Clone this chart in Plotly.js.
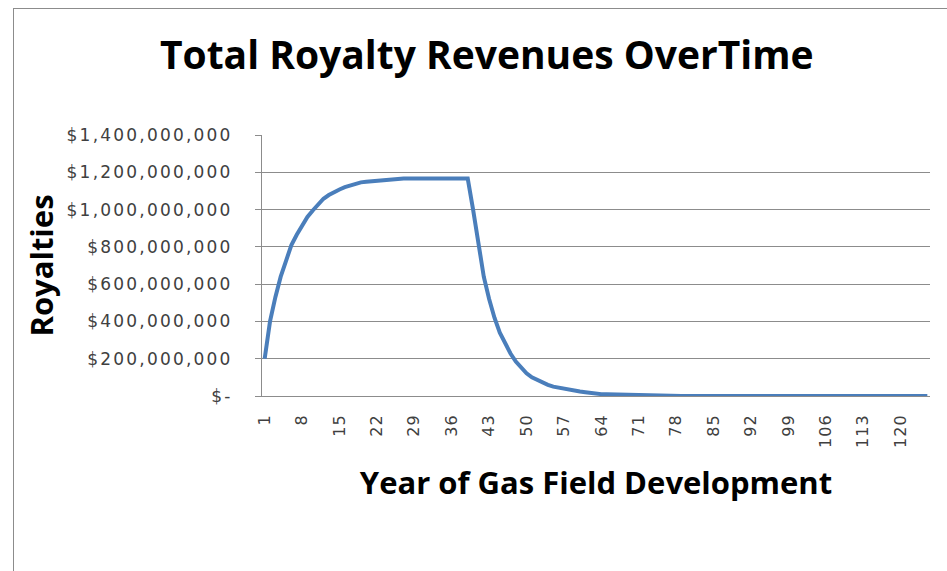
<!DOCTYPE html>
<html>
<head>
<meta charset="utf-8">
<script src="https://cdn.plot.ly/plotly-3.0.1.min.js"></script>
<style>
html,body{margin:0;padding:0;background:#fff;}
#chart{position:absolute;left:0;top:0;width:947px;height:571px;}
#frame{position:absolute;left:13px;top:8px;width:940px;height:570px;border-left:1px solid #8c8c8c;border-top:1px solid #8c8c8c;pointer-events:none;}
#chart .ytick text{letter-spacing:2.2px;}
#chart .xtick text{letter-spacing:1px;}
</style>
</head>
<body>
<div id="chart"></div>
<div id="frame"></div>
<script>
const years = [];
for (let i = 1; i <= 125; i++) years.push(i);

const royalties = [
  200e6, 400e6, 530e6, 640e6, 725e6, 810e6, 865e6, 915e6, 960e6, 995e6,
  1030e6, 1058e6, 1078e6, 1095e6, 1108e6, 1120e6, 1130e6, 1140e6, 1146e6, 1149e6,
  1152e6, 1155e6, 1157e6, 1160e6, 1163e6,
  1166e6, 1166e6, 1166e6, 1166e6, 1166e6, 1166e6, 1166e6, 1166e6, 1166e6, 1166e6,
  1166e6, 1166e6, 1166e6, 1166e6,
  1000e6, 820e6, 640e6, 520e6, 420e6, 340e6, 280e6, 228e6, 185e6, 150e6,
  122e6, 100e6, 85e6, 72e6, 60e6, 50e6, 44e6, 38e6, 33e6, 28e6,
  24e6, 20e6, 15e6, 12e6, 10e6, 9e6, 8e6, 7e6, 7e6, 6e6,
  6e6, 5e6, 5e6, 4e6, 4e6, 3e6, 3e6, 1e6,
  0, 0, 0, 0, 0, 0, 0, 0, 0, 0, 0, 0, 0, 0, 0, 0,
  0, 0, 0, 0, 0, 0, 0, 0, 0, 0, 0, 0, 0, 0, 0, 0,
  0, 0, 0, 0, 0, 0, 0, 0, 0, 0, 0, 0, 0, 0, 0, 0
];

const xTickVals = [1, 8, 15, 22, 29, 36, 43, 50, 57, 64, 71, 78, 85, 92, 99, 106, 113, 120];
const xTickText = ["1", "8", "15", "22", "29", "36", "43", "50", "57", "64", "71", "78", "85", "92", "99", "106", "113", "120"];
const yTickVals = [0, 200e6, 400e6, 600e6, 800e6, 1000e6, 1200e6, 1400e6];
const yTickText = ["$-", "$200,000,000", "$400,000,000", "$600,000,000", "$800,000,000", "$1,000,000,000", "$1,200,000,000", "$1,400,000,000"];

const TITLEFONT = "'Open Sans', Lato, sans-serif";
const TICKFONT = "'DejaVu Sans', 'Open Sans', sans-serif";

const trace = {
  x: years,
  y: royalties,
  type: "scatter",
  mode: "lines",
  line: {color: "#4a7ebb", width: 4},
  hoverinfo: "x+y"
};

const layout = {
  width: 947,
  height: 571,
  margin: {l: 262, r: 17, t: 135, b: 175},
  paper_bgcolor: "#ffffff",
  plot_bgcolor: "#ffffff",
  showlegend: false,
  title: {
    text: "Total Royalty Revenues OverTime",
    font: {family: TITLEFONT, size: 39, color: "#000000", weight: "bold"},
    x: 0.514, xanchor: "center",
    y: 0.903, yanchor: "middle",
    xref: "container", yref: "container"
  },
  xaxis: {
    range: [0.5, 125.5],
    tickmode: "array",
    tickvals: xTickVals,
    ticktext: xTickText,
    tickangle: -90,
    tickfont: {family: TICKFONT, size: 16, color: "#404040"},
    ticklabelstandoff: 11,
    showgrid: false,
    zeroline: false,
    showline: true,
    linecolor: "#8c8c8c",
    linewidth: 1,
    ticks: "",
    title: {
      text: "Year of Gas Field Development",
      font: {family: TITLEFONT, size: 31, color: "#000000", weight: "bold"},
      standoff: 28
    }
  },
  yaxis: {
    range: [0, 1400e6],
    tickmode: "array",
    tickvals: yTickVals,
    ticktext: yTickText,
    tickfont: {family: TICKFONT, size: 17, color: "#404040"},
    ticklabelstandoff: 19,
    showgrid: true,
    gridcolor: "#8c8c8c",
    gridwidth: 1,
    zeroline: false,
    showline: true,
    linecolor: "#8c8c8c",
    linewidth: 1,
    ticks: "outside",
    ticklen: 6,
    tickcolor: "#8c8c8c",
    title: {
      text: "Royalties",
      font: {family: TITLEFONT, size: 31, color: "#000000", weight: "bold"},
      standoff: 34
    }
  }
};

Plotly.newPlot("chart", [trace], layout, {displayModeBar: false, staticPlot: true});
</script>
</body>
</html>
